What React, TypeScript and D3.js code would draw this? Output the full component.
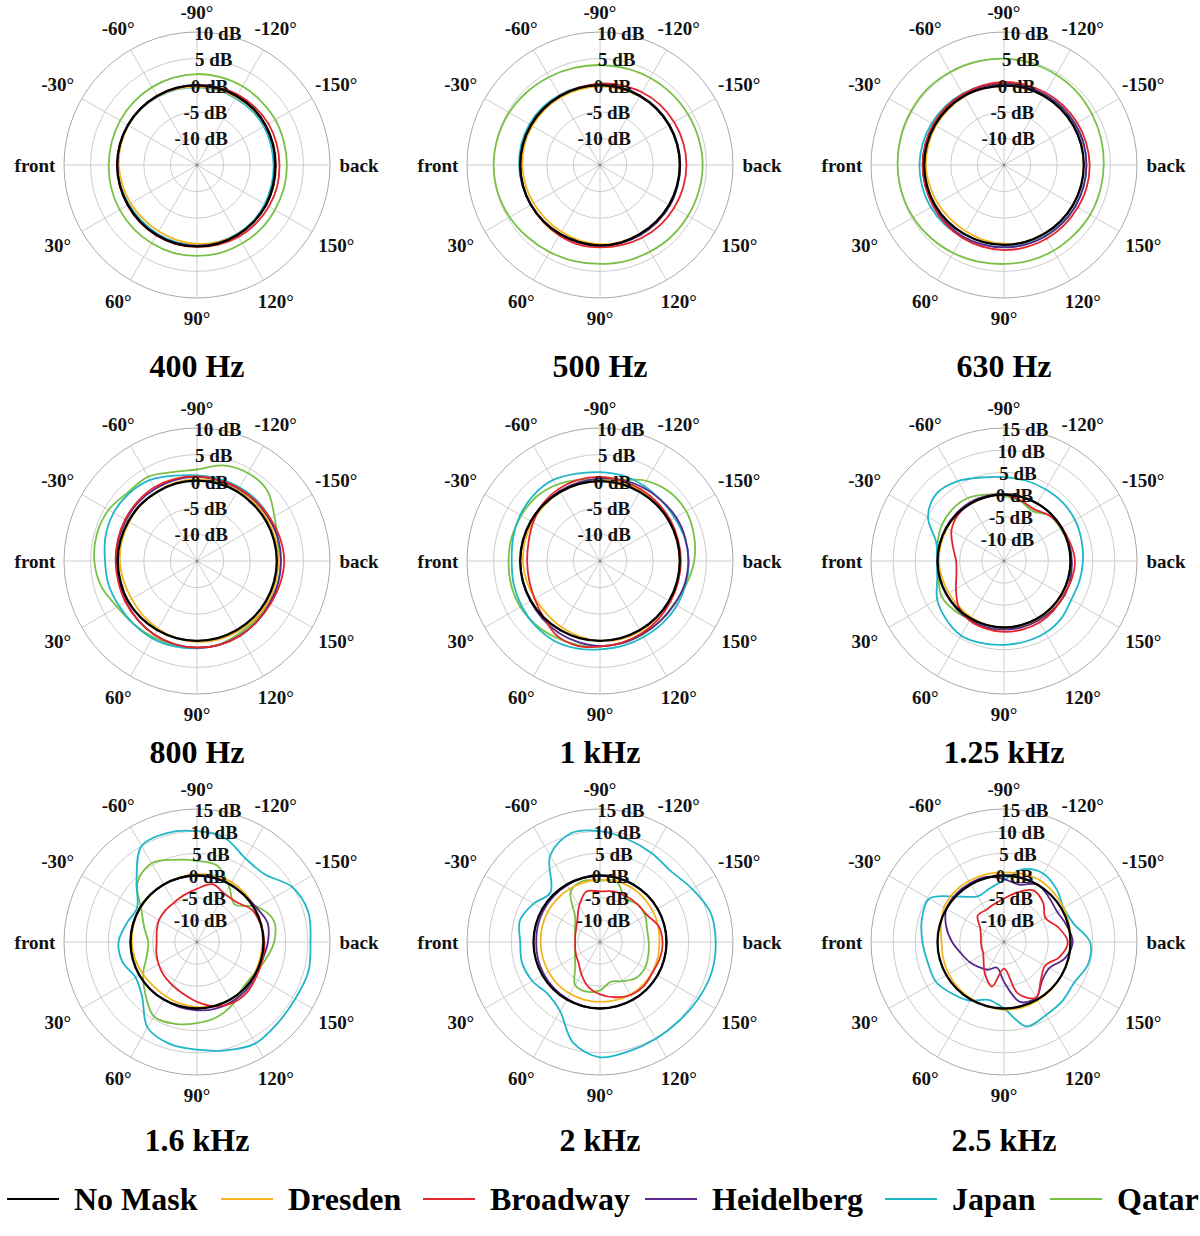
import * as d3 from "d3";

// angle 0 = front (left), 90 = below, 180 = back (right), 270 = -90 (top)
const angles = [0, 15, 30, 45, 60, 75, 90, 105, 120, 135, 150, 165, 180, 195, 210, 225, 240, 255, 270, 285, 300, 315, 330, 345];

const seriesKeys = ["qatar", "japan", "dresden", "heidelberg", "broadway", "noMask"];
const legendNames = ["No Mask", "Dresden", "Broadway", "Heidelberg", "Japan", "Qatar"];
const legendKeys = ["noMask", "dresden", "broadway", "heidelberg", "japan", "qatar"];
const colors: Record<string, string> = {
  noMask: "#000000",
  dresden: "#f2b51d",
  broadway: "#e3262b",
  heidelberg: "#56298a",
  japan: "#1fb6c9",
  qatar: "#78c144",
};

const angleTicks = [0, 30, 60, 90, 120, 150, 180, 210, 240, 270, 300, 330];
const angleTickLabels = ["front", "30°", "60°", "90°", "120°", "150°", "back", "-150°", "-120°", "-90°", "-60°", "-30°"];

const hz400 = {
  noMask: [0, 0, 0, 0.1, 0.2, 0.3, 0.3, 0.3, 0.2, 0.1, 0, -0.2, -0.3, -0.2, -0.1, 0, 0, 0, 0, 0, 0, 0, 0, 0],
  dresden: [-0.3, -0.5, -0.6, -0.7, -0.6, -0.4, -0.2, 0, 0.1, 0.1, 0, -0.1, -0.2, -0.2, -0.2, -0.2, -0.3, -0.3, -0.3, -0.2, -0.1, 0, -0.1, -0.2],
  broadway: [0, 0, 0.1, 0.2, 0.3, 0.4, 0.4, 0.5, 0.6, 0.6, 0.6, 0.6, 0.5, 0.5, 0.5, 0.4, 0.3, 0.1, 0, 0, 0, 0, 0, 0],
  heidelberg: [0, 0, 0, 0.1, 0.1, 0.2, 0.2, 0.2, 0.2, 0.1, 0, -0.1, -0.2, -0.2, -0.2, -0.1, -0.1, -0.1, -0.1, 0, 0, 0, 0, 0],
  japan: [0, -0.1, -0.2, -0.2, -0.1, 0, 0, 0, 0, -0.1, -0.3, -0.5, -0.6, -0.6, -0.5, -0.5, -0.5, -0.4, -0.4, -0.3, -0.2, -0.1, 0, 0],
  qatar: [1.6, 1.7, 1.8, 1.9, 2.0, 2.1, 2.1, 2.1, 2.0, 2.0, 1.9, 1.9, 1.9, 1.9, 2.0, 2.0, 2.1, 2.1, 2.1, 2.0, 1.9, 1.8, 1.7, 1.6],
};

const hz500 = {
  noMask: [0, 0, 0, 0, 0, 0, 0.1, 0.1, 0, 0, 0, 0, 0, 0, 0, 0, 0, 0, 0, 0, 0, 0, 0, 0],
  dresden: [-0.4, -0.5, -0.6, -0.6, -0.5, -0.3, -0.1, 0, 0, 0, 0, 0, 0, 0, 0, 0, -0.1, -0.2, -0.2, -0.3, -0.3, -0.3, -0.3, -0.3],
  broadway: [0, 0, 0, 0.1, 0.3, 0.5, 0.5, 0.6, 0.8, 1.0, 1.1, 1.2, 1.25, 1.2, 1.1, 1.0, 0.8, 0.5, 0.3, 0.1, 0, 0, 0, 0],
  heidelberg: [0, 0, 0, 0, 0.1, 0.1, 0.2, 0.2, 0.2, 0.2, 0.2, 0.1, 0.1, 0.1, 0.1, 0.1, 0.1, 0.1, 0.1, 0, 0, 0, 0, 0],
  japan: [0.2, 0.1, 0, 0, 0, 0.1, 0.2, 0.2, 0.2, 0.1, 0.1, 0, 0, 0, 0, 0, 0, 0, 0, 0.1, 0.2, 0.3, 0.3, 0.3],
  qatar: [5.0, 4.9, 4.6, 4.2, 3.9, 3.7, 3.6, 3.7, 3.8, 4.0, 4.1, 4.2, 4.3, 4.2, 4.1, 4.0, 3.9, 3.8, 3.8, 3.9, 4.1, 4.4, 4.7, 4.9],
};

const hz630 = {
  noMask: [0, 0, 0, 0, 0, 0, 0, 0, 0, 0, 0, 0, 0, 0, 0, 0, 0, 0, -0.1, -0.1, 0, 0, 0, 0],
  dresden: [-0.3, -0.5, -0.6, -0.7, -0.6, -0.4, -0.2, 0, 0, 0, 0, 0, 0, 0, 0, 0, 0, 0, 0, -0.1, -0.1, -0.2, -0.2, -0.3],
  broadway: [0.3, 0.3, 0.4, 0.6, 0.8, 0.9, 1.0, 1.0, 1.0, 1.0, 1.0, 1.1, 1.1, 1.0, 0.9, 0.8, 0.7, 0.6, 0.6, 0.5, 0.4, 0.4, 0.3, 0.3],
  heidelberg: [0.3, 0.3, 0.3, 0.4, 0.5, 0.5, 0.5, 0.5, 0.5, 0.5, 0.5, 0.5, 0.5, 0.5, 0.4, 0.4, 0.3, 0.3, 0.3, 0.3, 0.3, 0.3, 0.3, 0.3],
  japan: [0.9, 0.9, 0.9, 0.8, 0.6, 0.5, 0.4, 0.4, 0.4, 0.4, 0.5, 0.5, 0.5, 0.5, 0.5, 0.4, 0.3, 0.3, 0.3, 0.4, 0.5, 0.6, 0.7, 0.8],
  qatar: [5.0, 4.9, 4.7, 4.4, 4.1, 3.8, 3.6, 3.6, 3.6, 3.6, 3.7, 3.7, 3.75, 3.9, 4.1, 4.4, 4.6, 4.8, 5.0, 5.1, 5.2, 5.3, 5.2, 5.1],
};

const hz800 = {
  noMask: [-0.1, -0.1, 0, 0, 0, 0, 0, 0, 0, 0, 0, 0, 0, 0, 0, 0, 0.1, 0.1, 0.1, 0.1, 0, 0, -0.1, -0.1],
  dresden: [-0.5, -0.7, -0.8, -0.6, -0.3, 0, 0.2, 0.3, 0.3, 0.4, 0.4, 0.3, 0.3, 0.3, 0.3, 0.4, 0.4, 0.4, 0.4, 0.3, 0.1, -0.1, -0.3, -0.4],
  broadway: [0.3, 0.3, 0.5, 0.7, 1.0, 1.2, 1.3, 1.3, 1.2, 1.0, 1.0, 1.2, 1.4, 1.2, 0.9, 0.8, 0.8, 0.8, 0.9, 1.0, 1.0, 0.8, 0.6, 0.4],
  heidelberg: [0.2, 0.2, 0.4, 0.7, 1.0, 1.2, 1.3, 1.3, 1.2, 1.0, 0.8, 0.8, 0.8, 0.8, 0.7, 0.7, 0.7, 0.7, 0.8, 0.8, 0.7, 0.6, 0.4, 0.3],
  japan: [2.3, 2.2, 1.9, 1.8, 1.8, 1.6, 1.4, 1.3, 1.1, 1.0, 0.9, 0.8, 0.7, 0.8, 0.9, 1.0, 1.0, 1.0, 1.1, 1.6, 2.6, 3.0, 3.1, 2.8],
  qatar: [4.3, 3.6, 2.3, 1.8, 1.5, 1.3, 1.3, 1.2, 0.8, 0.6, 0.5, 0.3, 0.2, 0.7, 1.8, 3.7, 4.1, 3.6, 2.2, 2.3, 3.3, 3.3, 4.2, 4.5],
};

const khz1 = {
  noMask: [0, 0, 0, 0, 0, 0, 0, 0, 0, 0, 0, 0, 0, 0, 0, 0, 0, 0, 0, 0, 0, 0, 0, 0],
  dresden: [-0.5, -0.7, -0.9, -0.9, -0.6, -0.3, 0, 0.2, 0.2, 0.1, 0, 0, 0, 0, 0.1, 0.2, 0.3, 0.3, 0.2, 0, -0.1, -0.2, -0.3, -0.4],
  broadway: [-1.3, -1.2, -0.8, 0, 1.2, 1.5, 1.1, 0.9, 0.7, 0.5, 0.3, 0.2, 0.2, 0.2, 0.3, 0.4, 0.5, 0.6, 0.8, 0.8, 0.6, 0.2, -0.5, -1.1],
  heidelberg: [0, 0, 0.1, 0.3, 0.6, 0.8, 1.0, 1.0, 0.9, 1.0, 1.2, 1.5, 1.6, 1.6, 1.5, 1.2, 1.0, 0.8, 0.5, 0.3, 0.2, 0.1, 0, 0],
  japan: [1.6, 1.8, 2.0, 2.2, 2.3, 2.0, 1.6, 1.5, 1.5, 1.6, 1.7, 1.7, 1.7, 1.5, 1.2, 1.2, 1.4, 1.6, 1.7, 2.0, 2.6, 2.6, 2.3, 1.9],
  qatar: [2.2, 2.3, 2.3, 2.0, 1.6, 1.3, 1.1, 1.0, 1.0, 1.0, 1.1, 1.8, 2.7, 3.3, 3.7, 3.4, 2.4, 0.8, 0.3, 0.8, 1.5, 2.0, 2.1, 2.2],
};

const khz125 = {
  noMask: [0, 0, 0, 0, 0, 0, 0, 0, 0, 0, 0, 0, 0, 0, 0, 0, 0, 0, 0, 0, 0, 0, 0, 0],
  dresden: [-0.3, -0.5, -0.6, -0.5, -0.3, 0, 0.2, 0.3, 0.3, 0.2, 0.1, 0, 0, 0, 0, 0, 0, 0, 0, 0, 0, -0.1, -0.2, -0.3],
  broadway: [-4.2, -3.9, -2.5, -0.5, 0.5, 0.8, 1.0, 1.0, 1.0, 0.8, 0.5, 0.8, 1.0, 0.5, 0, -0.5, -1.5, -0.8, 0, 0, 0, -0.3, -1.3, -3.1],
  heidelberg: [0, 0, 0, 0.2, 0.4, 0.5, 0.5, 0.5, 0.5, 0.6, 0.7, 0.5, 0.3, 0.2, 0.1, 0, 0, 0, 0, 0.2, 0.3, 0.2, 0.1, 0],
  japan: [0.1, 0.6, 2.4, 3.5, 4.4, 4.2, 3.9, 3.8, 3.7, 3.3, 2.5, 2.6, 2.8, 3.1, 3.5, 3.7, 3.7, 3.8, 3.9, 4.5, 5.8, 6.5, 4.8, 0.8],
  qatar: [-0.2, 0.3, 1.2, 0.8, 0.2, 0, 0, 0, 0, 0, 0, 0, 0, 0, -0.3, -0.5, -2.0, -1.0, -0.3, 0.5, 1.4, 1.5, 1.2, 0.5],
};

const khz16 = {
  noMask: [0, 0, 0, 0, 0, 0, 0, 0, 0, 0, 0, 0, 0, 0, 0, 0, 0, 0, 0, 0, 0, 0, 0, 0],
  dresden: [-0.3, -0.5, -0.8, -1.0, -0.9, -0.6, -0.3, 0, 0, 0, -0.2, -0.3, -0.2, 0, 0.2, 0.4, 0.6, 0.5, 0.3, 0.1, 0, -0.1, -0.1, -0.2],
  broadway: [-5.9, -5.5, -5.0, -4.4, -3.8, -2.9, -1.5, 0.0, 0.9, 1.0, 0.5, 0.3, 0.2, -0.1, -0.6, -2.3, -2.5, -1.5, -3.0, -4.0, -4.7, -4.9, -5.1, -5.6],
  heidelberg: [0, 0, 0, 0, 0, 0.2, 0.4, 0.6, 0.6, 0.5, 0.2, 0.3, 1.0, 1.5, 0.5, 0, 0, 0, 0, 0, 0, 0, 0, 0],
  japan: [2.7, 2.4, 1.0, 2.5, 7.3, 8.8, 9.3, 10.3, 11.4, 10.8, 10.6, 11.0, 10.6, 11.0, 9.8, 6.6, 6.8, 9.3, 10.0, 10.5, 10.0, 4.3, 0.6, 1.4],
  qatar: [-4.0, -3.3, -1.0, 1.5, 4.4, 4.1, 3.3, 2.5, 1.2, -0.4, -0.3, 0.9, 2.4, 3.0, 0.8, -3.0, -0.5, 2.8, 3.3, 4.2, 5.5, 4.0, -0.5, -2.7],
};

const khz2 = {
  noMask: [0, 0, 0, 0, 0, 0, 0, 0, 0, 0, 0, 0, 0, 0, 0, 0, 0, 0, 0, 0, 0, 0, 0, 0],
  dresden: [-1.6, -1.6, -1.6, -1.5, -1.5, -1.5, -1.5, -1.4, -1.3, -1.3, -1.4, -1.5, -1.6, -1.4, -1.2, -1.0, -0.8, -0.8, -1.0, -1.1, -1.2, -1.3, -1.4, -1.5],
  broadway: [-9.4, -9.2, -8.8, -8.2, -6.6, -4.6, -3.2, -2.1, -1.2, -1.0, -1.3, -1.0, -0.9, -1.3, -2.8, -3.0, -3.1, -3.2, -3.6, -3.2, -5.6, -7.8, -8.8, -9.2],
  heidelberg: [-0.6, -0.5, -0.4, -0.3, -0.2, 0, 0, 0, 0, 0, 0, 0, 0, 0, 0, 0, 0, 0, 0, -0.1, -0.2, -0.3, -0.4, -0.5],
  japan: [3.0, 3.2, 2.6, 1.6, 3.0, 8.5, 11.0, 10.5, 10.2, 10.2, 10.6, 11.1, 11.1, 10.8, 9.0, 7.6, 8.2, 9.0, 10.0, 10.4, 7.5, 0.8, 2.3, 3.7],
  qatar: [-9.4, -9.2, -8.5, -7.1, -3.8, -3.4, -4.1, -5.7, -4.8, -3.5, -3.3, -3.7, -4.0, -4.0, -3.2, -3.0, -3.6, -0.8, -1.2, -0.7, -1.8, -7.1, -8.5, -9.2],
};

const khz25 = {
  noMask: [0, 0, 0, 0, 0, 0, 0, 0, 0, 0, 0, 0, 0, 0, 0, 0, 0, 0, 0, 0, 0, 0, 0, 0],
  dresden: [-0.9, -0.8, -0.6, -0.4, -0.2, 0, 0.3, 0.3, 0.2, 0.1, 0, 0, 0, 0.2, 0.5, 0.8, 1.1, 0.9, 0.7, 0.8, 0.9, 0.9, 0.6, -0.3],
  broadway: [-9.8, -9.8, -9.6, -8.5, -6.5, -4.6, -9.0, -3.0, -0.5, -3.2, -4.3, -2.0, -0.6, -2.3, -4.2, -2.5, -1.6, -3.4, -5.2, -6.2, -6.7, -6.6, -8.8, -9.6],
  heidelberg: [-3.3, -5.0, -6.0, -7.0, -7.8, -9.0, -6.0, -1.0, -0.5, -2.8, -3.2, -0.8, 0.5, -0.4, -1.2, -0.7, 0.0, -1.6, -0.8, 0.2, 0.3, 0.3, 0.0, -1.5],
  japan: [3.4, 2.8, 2.8, 1.5, 0.3, -1.5, 0.0, 4.7, 4.0, 3.7, 3.3, 4.6, 4.4, 1.2, 0.5, 1.8, 2.8, 2.0, -1.0, -2.5, -3.1, -0.5, 4.5, 4.2],
  qatar: null,
};

const panels = [
  { title: "400 Hz", max: 10, data: hz400 },
  { title: "500 Hz", max: 10, data: hz500 },
  { title: "630 Hz", max: 10, data: hz630 },
  { title: "800 Hz", max: 10, data: hz800 },
  { title: "1 kHz", max: 10, data: khz1 },
  { title: "1.25 kHz", max: 15, data: khz125 },
  { title: "1.6 kHz", max: 15, data: khz16 },
  { title: "2 kHz", max: 15, data: khz2 },
  { title: "2.5 kHz", max: 15, data: khz25 },
];

const colX = [197, 600, 1004];
const rowY = [165, 561, 942];
const titleY = [366, 752, 1140];
const R = 133;
const FONT = "'Liberation Serif', 'Times New Roman', serif";

const toRad = (deg: number) => ((270 - deg) * Math.PI) / 180;

function Polar({ cx, cy, title, max, data, ty }: any) {
  const r = d3.scaleLinear().domain([-15, max]).range([0, R]);
  const rings = d3.range(-10, max + 1, 5);
  const line = d3
    .lineRadial<number>()
    .angle((_, i) => toRad(angles[i]))
    .radius((d) => r(d))
    .curve(d3.curveCatmullRomClosed.alpha(0.5));
  const lblA = (9 * Math.PI) / 180;
  return (
    <g>
      <g transform={`translate(${cx},${cy})`}>
        {rings.map((v) => (
          <circle key={v} r={r(v)} fill="none" stroke={v === max ? "#a9a9a9" : "#cccccc"} strokeWidth={1} />
        ))}
        {angleTicks.map((a) => {
          const t = toRad(a);
          return <line key={a} x1={0} y1={0} x2={R * Math.sin(t)} y2={-R * Math.cos(t)} stroke="#cccccc" strokeWidth={1} />;
        })}
        <circle r={1.5} fill="#888" />
        {seriesKeys.map((k) =>
          data[k] ? (
            <path
              key={k}
              d={line(data[k]) || ""}
              fill="none"
              stroke={colors[k]}
              strokeWidth={k === "noMask" ? 2.3 : 1.8}
              strokeLinejoin="round"
            />
          ) : null
        )}
        {rings.map((v) => (
          <text
            key={"l" + v}
            x={r(v) * Math.sin(lblA)}
            y={-r(v) * Math.cos(lblA)}
            textAnchor="middle"
            dominantBaseline="central"
            fontFamily={FONT}
            fontWeight="bold"
            fontSize={19}
            fill="#111"
          >
            {`${v} dB`}
          </text>
        ))}
        {angleTicks.map((a, i) => {
          const t = toRad(a);
          const rr = 153 + 9 * Math.abs(Math.cos((a * Math.PI) / 180));
          return (
            <text
              key={"a" + a}
              x={rr * Math.sin(t)}
              y={-rr * Math.cos(t)}
              textAnchor="middle"
              dominantBaseline="central"
              fontFamily={FONT}
              fontWeight="bold"
              fontSize={19}
              fill="#111"
            >
              {angleTickLabels[i]}
            </text>
          );
        })}
      </g>
      <text x={cx} y={ty} textAnchor="middle" dominantBaseline="central" fontFamily={FONT} fontWeight="bold" fontSize={32} fill="#000">
        {title}
      </text>
    </g>
  );
}

const legendLineX = [7, 221, 423, 645, 885, 1050];

export default function App() {
  return (
    <svg width={1200} height={1236} style={{ position: "absolute", left: 0, top: 0, background: "#fff" }}>
      <rect width={1200} height={1236} fill="#fff" />
      {panels.map((p, i) => (
        <Polar key={p.title} cx={colX[i % 3]} cy={rowY[Math.floor(i / 3)]} ty={titleY[Math.floor(i / 3)]} {...p} />
      ))}
      <g>
        {legendKeys.map((k, i) => (
          <g key={k}>
            <line x1={legendLineX[i]} x2={legendLineX[i] + 52} y1={1199} y2={1199} stroke={colors[k]} strokeWidth={2} />
            <text
              x={legendLineX[i] + 67}
              y={1199}
              dominantBaseline="central"
              fontFamily={FONT}
              fontWeight="bold"
              fontSize={32}
              fill="#000"
            >
              {legendNames[i]}
            </text>
          </g>
        ))}
      </g>
    </svg>
  );
}
